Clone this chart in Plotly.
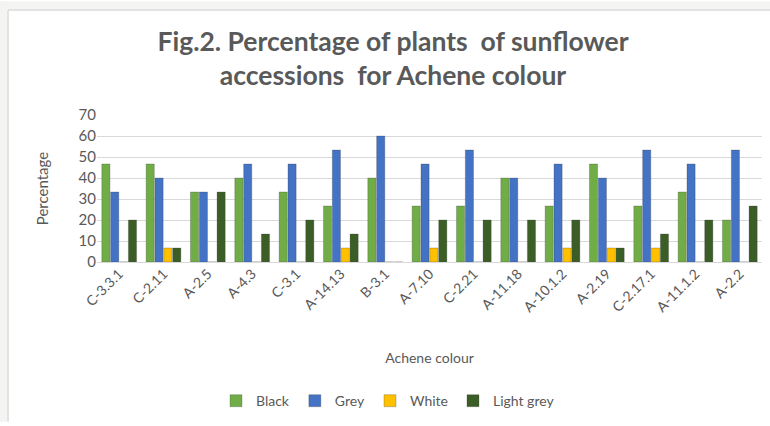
import plotly.graph_objects as go

categories = ["C-3.3.1", "C-2.11", "A-2.5", "A-4.3", "C-3.1", "A-14.13", "B-3.1", "A-7.10",
              "C-2.21", "A-11.18", "A-10.1.2", "A-2.19", "C-2.17.1", "A-11.1.2", "A-2.2"]
black = [46.67, 46.67, 33.33, 40, 33.33, 26.67, 40, 26.67, 26.67, 40, 26.67, 46.67, 26.67, 33.33, 20]
grey = [33.33, 40, 33.33, 46.67, 46.67, 53.33, 60, 46.67, 53.33, 40, 46.67, 40, 53.33, 46.67, 53.33]
white = [0, 6.67, 0, 0, 0, 6.67, 0, 6.67, 0, 0, 6.67, 6.67, 6.67, 0, 0]
light_grey = [20, 6.67, 33.33, 13.33, 20, 13.33, 0, 20, 20, 20, 20, 6.67, 13.33, 20, 26.67]

series = [("Black", black, "#70AD47"), ("Grey", grey, "#4472C4"),
          ("White", white, "#FFC000"), ("Light grey", light_grey, "#3B5E27")]

FONT = "Lato"
TXT = "#595959"

fig = go.Figure()
for name, vals, col in series:
    fig.add_trace(go.Bar(x=categories, y=vals, name=name, marker_color=col,
                         marker_line=dict(color="rgba(60,60,60,0.45)", width=0.6)))

L, R, T, B = 97, 8, 115, 162
W, H = 770, 426
pw, ph = W - L - R, H - T - B

def px(x):
    return (x - L) / pw

def py(y):
    return (H - B - y) / ph

shapes = [
    dict(type="rect", xref="paper", yref="paper", x0=px(0), x1=px(7), y0=py(H), y1=py(0),
         fillcolor="#F4F4F2", line_width=0, layer="below"),
    dict(type="rect", xref="paper", yref="paper", x0=px(0), x1=px(W), y0=py(8), y1=py(0),
         fillcolor="#F4F4F2", line_width=0, layer="below"),
    dict(type="line", xref="paper", yref="paper", x0=px(8), x1=px(8), y0=py(H), y1=py(8.5),
         line=dict(color="#DADADA", width=1.5)),
    dict(type="line", xref="paper", yref="paper", x0=px(8), x1=px(W), y0=py(8.5), y1=py(8.5),
         line=dict(color="#DADADA", width=1.5)),
]

fig.update_layout(
    width=W, height=H,
    margin=dict(l=L, r=R, t=T, b=B),
    paper_bgcolor="white", plot_bgcolor="white",
    barmode="group", bargap=0.2, bargroupgap=0.08,
    font=dict(family=FONT, color=TXT, size=13),
    title=dict(text="<b>Fig.2. Percentage of plants  of sunflower<br>accessions  for Achene colour</b>",
               xref="container", yref="container",
               x=393 / W, xanchor="center", y=1 - 51 / H, yanchor="top",
               font=dict(family=FONT, size=26.5, color=TXT)),
    xaxis=dict(title=dict(text="Achene colour", font=dict(size=14, color=TXT), standoff=39),
               tickangle=-45, tickfont=dict(size=14, color=TXT), showline=False,
               showgrid=False, ticks=""),
    yaxis=dict(title=dict(text="Percentage", font=dict(size=15, color=TXT), standoff=26),
               range=[0, 70], dtick=10, tickfont=dict(size=15, color=TXT),
               showgrid=True, gridcolor="#D9D9D9", gridwidth=1.2, zeroline=True,
               zerolinecolor="#D9D9D9", zerolinewidth=1.2, showline=False, ticks=""),
    legend=dict(orientation="h", x=px(388), xanchor="center", y=py(405), yanchor="middle",
                font=dict(size=14, color=TXT), itemwidth=30, traceorder="normal"),
    shapes=shapes,
)

fig.write_html("out.html")
